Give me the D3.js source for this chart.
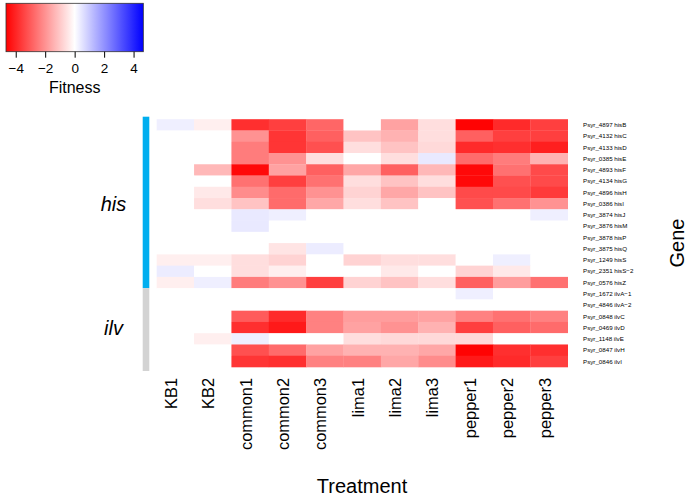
<!DOCTYPE html>
<html><head><meta charset="utf-8">
<script src="https://cdn.jsdelivr.net/npm/d3@7"></script>
<style>body{margin:0;background:#fff}svg{display:block;font-family:"Liberation Sans",Arial,Helvetica,sans-serif}</style>
</head><body>
<svg id="c" width="696" height="496"></svg>
<script>
const treatments = ["KB1","KB2","common1","common2","common3","lima1","lima2","lima3","pepper1","pepper2","pepper3"];
const genes = ["Psyr_4897 hisB","Psyr_4132 hisC","Psyr_4133 hisD","Psyr_0385 hisE","Psyr_4893 hisF","Psyr_4134 hisG","Psyr_4896 hisH","Psyr_0386 hisI","Psyr_3874 hisJ","Psyr_3876 hisM","Psyr_3878 hisP","Psyr_3875 hisQ","Psyr_1249 hisS","Psyr_2351 hisS\u22122","Psyr_0576 hisZ","Psyr_1672 ilvA\u22121","Psyr_4846 ilvA\u22122","Psyr_0848 ilvC","Psyr_0469 ilvD","Psyr_1148 ilvE","Psyr_0847 ilvH","Psyr_0846 ilvI"];
const geneGroups = [{name:"his", count:15, color:"#00AEEF"},{name:"ilv", count:7, color:"#D3D3D3"}];
const fitness = [
 [ 0.3,-0.3,-3.8,-3.5,-2.8, 0.0,-1.7,-0.6,-4.6,-3.9,-3.5],
 [ 0.0, 0.0,-2.0,-3.7,-2.9,-1.1,-1.4,-0.6,-2.9,-3.5,-3.5],
 [ 0.0, 0.0,-2.4,-3.7,-3.2,-0.6,-1.1,-0.7,-3.9,-3.8,-4.1],
 [ 0.0, 0.0,-2.4,-2.0,-0.6, 0.0,-0.6, 0.4,-2.7,-2.4,-1.4],
 [ 0.0,-1.3,-4.5,-1.7,-2.9,-1.6,-2.9,-1.3,-4.5,-2.6,-3.3],
 [ 0.0, 0.0,-2.6,-3.5,-2.6,-0.6,-1.1,-0.6,-4.5,-3.2,-3.3],
 [ 0.0,-0.4,-2.1,-2.7,-2.0,-0.8,-1.6,-1.1,-3.3,-3.3,-3.6],
 [ 0.0,-0.6,-1.1,-2.7,-1.6,-0.6,-1.1, 0.0,-3.2,-2.6,-2.0],
 [ 0.0, 0.0, 0.4, 0.3, 0.0, 0.0, 0.0, 0.0, 0.0, 0.0, 0.3],
 [ 0.0, 0.0, 0.4, 0.0, 0.0, 0.0, 0.0, 0.0, 0.0, 0.0, 0.0],
 [ 0.0, 0.0, 0.0, 0.0, 0.0, 0.0, 0.0, 0.0, 0.0, 0.0, 0.0],
 [ 0.0, 0.0, 0.0,-0.5, 0.35,0.0, 0.0, 0.0, 0.0, 0.0, 0.0],
 [-0.3,-0.3,-0.6,-0.8, 0.0,-0.8,-0.6,-0.6, 0.0, 0.3, 0.0],
 [ 0.35,0.0,-0.6,-0.3, 0.0, 0.0,-0.4, 0.0,-0.8,-0.4, 0.0],
 [-0.3, 0.3,-2.4,-2.0,-3.5,-0.8,-1.1,-0.6,-2.9,-1.8,-2.6],
 [ 0.0, 0.0, 0.0, 0.0, 0.0, 0.0, 0.0, 0.0, 0.3, 0.0, 0.0],
 [ 0.0, 0.0, 0.0, 0.0, 0.0, 0.0, 0.0, 0.0, 0.0, 0.0, 0.0],
 [ 0.0, 0.0,-3.0,-3.9,-2.3,-1.8,-1.8,-1.7,-2.3,-2.6,-2.3],
 [ 0.0, 0.0,-3.8,-4.2,-2.3,-1.7,-2.0,-1.4,-3.5,-2.9,-2.7],
 [ 0.0,-0.3, 0.3, 0.0, 0.0,-0.6,-0.7,-0.7,-0.7, 0.0, 0.0],
 [ 0.0, 0.0,-3.2,-2.7,-1.7,-1.4,-1.4,-1.6,-4.6,-3.8,-3.8],
 [ 0.0, 0.0,-3.7,-3.8,-2.3,-2.3,-1.6,-2.1,-4.2,-3.9,-3.5]
];
const legendTicks = [-4,-2,0,2,4];
const legendMax = 4.66;

const svg = d3.select("#c");
const hx0 = 156.7, hx1 = 567.7, hy0 = 119.2, hy1 = 367;
const x = d3.scaleBand().domain(treatments).range([hx0,hx1]);
const y = d3.scaleBand().domain(genes).range([hy0,hy1]);
const color = d3.scaleLinear().domain([-legendMax,0,legendMax]).range(["#ff0000","#ffffff","#0000ff"]).clamp(true);

// cells
const cells = [];
fitness.forEach((row,i)=>row.forEach((v,j)=>cells.push({g:genes[i],t:treatments[j],v})));
svg.append("g").selectAll("rect").data(cells).join("rect")
  .attr("x",d=>x(d.t)).attr("y",d=>y(d.g))
  .attr("width",x.bandwidth()+0.3).attr("height",y.bandwidth()+0.3)
  .attr("fill",d=>color(d.v));

// side bar
let idx = 0;
const sideExt = 2.5;
geneGroups.forEach((g,k)=>{
  const top = y(genes[idx]) - (k===0?sideExt:0);
  const bot = y(genes[idx+g.count-1]) + y.bandwidth() + (k===geneGroups.length-1?4:0);
  svg.append("rect").attr("x",142.7).attr("y",top).attr("width",6.6).attr("height",bot-top).attr("fill",g.color);
  const mid = (y(genes[idx]) + y(genes[idx+g.count-1]) + y.bandwidth())/2;
  svg.append("text").attr("x",113.5).attr("y",mid+7).attr("text-anchor","middle")
    .attr("font-size",20).attr("font-style","italic").text(g.name);
  idx += g.count;
});

// gene labels
svg.append("g").selectAll("text").data(genes).join("text")
  .attr("x",583).attr("y",d=>y(d)+y.bandwidth()/2+2.2)
  .attr("font-size",6.2).attr("fill","#000").text(d=>d);

// treatment labels
svg.append("g").selectAll("text").data(treatments).join("text")
  .attr("transform",d=>`translate(${x(d)+x.bandwidth()/2+1.5},378) rotate(-90)`)
  .attr("text-anchor","end").attr("font-size",16.4).text(d=>d);

svg.append("text").attr("x",362).attr("y",493).attr("text-anchor","middle").attr("font-size",20).text("Treatment");
svg.append("text").attr("transform","translate(684,243) rotate(-90)").attr("text-anchor","middle").attr("font-size",20).text("Gene");

// legend
const lx0 = 6, lx1 = 143.3, ly0 = 3.3, ly1 = 51.7;
const lx = d3.scaleLinear().domain([-legendMax,legendMax]).range([lx0,lx1]);
const defs = svg.append("defs");
const grad = defs.append("linearGradient").attr("id","lg").attr("x1","0%").attr("x2","100%");
d3.range(0,1.0001,0.05).forEach(t=>grad.append("stop").attr("offset",(t*100)+"%").attr("stop-color",color(-legendMax+2*legendMax*t)));
svg.append("rect").attr("x",lx0).attr("y",ly0).attr("width",lx1-lx0).attr("height",ly1-ly0)
  .attr("fill","url(#lg)").attr("stroke","#333").attr("stroke-width",0.8);
const ax = svg.append("g").attr("transform",`translate(0,${ly1})`)
  .call(d3.axisBottom(lx).tickValues(legendTicks).tickSize(6).tickPadding(6).tickFormat(d=>d<0?"\u2212"+Math.abs(d):d));
ax.select(".domain").remove();
ax.selectAll("text").attr("font-size",13.5).attr("font-family","Liberation Sans, Arial, sans-serif").attr("fill","#000");
ax.selectAll("line").attr("stroke","#000");
svg.append("text").attr("x",74.7).attr("y",93).attr("text-anchor","middle").attr("font-size",16).text("Fitness");
</script>
</body></html>
